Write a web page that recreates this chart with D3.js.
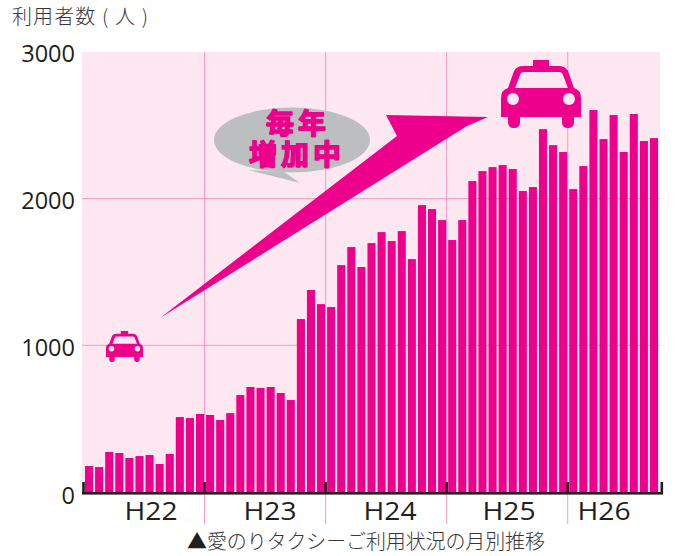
<!DOCTYPE html>
<html>
  <head>
    <meta http-equiv="content-type" content="text/html; charset=UTF-8">
    <title>愛のりタクシー</title>
    <script type='text/javascript' src='https://d3js.org/d3.v7.min.js'></script>
    <style type='text/css'>
      html, body { margin: 0; padding: 0; background-color: white; }
      svg { display: block; }
      text { fill: #231f20; }
    </style>
  </head>
  <body>
    <script type='text/javascript'>
      var years = ["H22", "H23", "H24", "H25", "H26"];
      var monthsPerYear = [12, 12, 12, 12, 9];
      var h22 = [177, 170, 273, 266, 232, 245, 252, 191, 259, 511, 504, 532];
      var h23 = [525, 491, 538, 661, 716, 709, 716, 675, 627, 1179, 1377, 1281];
      var h24 = [1261, 1547, 1670, 1534, 1697, 1772, 1711, 1779, 1588, 1956, 1929, 1854];
      var h25 = [1718, 1854, 2120, 2188, 2215, 2229, 2202, 2052, 2079, 2474, 2365, 2318];
      var h26 = [2065, 2222, 2604, 2406, 2570, 2318, 2577, 2393, 2413];
      var yTicks = [0, 1000, 2000, 3000];

      var values = h22.concat(h23, h24, h25, h26);
      var w = 675, h = 556;
      var pink = "#ec008c", bg = "#fde7f0", grid = "#f59ac3", ink = "#231f20";
      var jp = "'Noto Sans CJK JP', sans-serif";
      var latin = "'Open Sans', sans-serif";

      var svg = d3.select("body").append("svg").attr("width", w).attr("height", h);

      var x = d3.scaleBand().domain(d3.range(values.length))
        .range([85, 658]).paddingInner(0.2).paddingOuter(0);
      var y = d3.scaleLinear().domain([0, 3000]).range([492, 52]);

      // first month of each year, used for the dividers
      var starts = Array.from(d3.cumsum(monthsPerYear)).slice(0, -1);
      var dividers = starts.map(function(i) { return x(i) - 1.5; });

      svg.append("rect").attr("x", 82).attr("y", y(3000))
        .attr("width", 578).attr("height", y(0) - y(3000)).style("fill", bg);

      // grid
      svg.selectAll(".hgrid").data([1000, 2000]).enter().append("line")
        .attr("x1", 82).attr("x2", 660)
        .attr("y1", function(d) { return y(d); }).attr("y2", function(d) { return y(d); })
        .style("stroke", grid).style("stroke-width", 1);
      svg.selectAll(".vgrid").data(dividers).enter().append("line")
        .attr("x1", function(d) { return d; }).attr("x2", function(d) { return d; })
        .attr("y1", y(3000)).attr("y2", 524)
        .style("stroke", grid).style("stroke-width", 1);

      // bars
      svg.selectAll(".bar").data(values).enter().append("rect")
        .attr("x", function(d, i) { return x(i); })
        .attr("y", function(d) { return y(d); })
        .attr("width", x.bandwidth())
        .attr("height", function(d) { return y(0) - y(d); })
        .style("fill", pink);

      // baseline and year ticks
      svg.append("rect").attr("x", 82).attr("y", 492).attr("width", 581).attr("height", 2.6).style("fill", ink);
      svg.selectAll(".ytick").data([83.5].concat(dividers, [661.8])).enter().append("rect")
        .attr("x", function(d) { return d - 1.3; })
        .attr("y", 482).attr("width", 2.6).attr("height", 12)
        .style("fill", ink);

      // y axis labels
      var yAxis = svg.append("g").attr("transform", "translate(82,0)")
        .call(d3.axisLeft(y).tickValues(yTicks).tickSize(0).tickPadding(7).tickFormat(d3.format("d")));
      yAxis.select(".domain").remove();
      yAxis.selectAll("text").style("font-family", latin).style("font-size", "23.5px")
        .attr("dy", function(d) { return d === 0 ? "0.5em" : "0.42em"; });

      // year labels
      var yearX = [151, 270, 390, 509, 604];
      svg.selectAll(".year").data(years).enter().append("text")
        .attr("x", function(d, i) { return yearX[i]; })
        .attr("y", 520).attr("text-anchor", "middle")
        .style("font-family", latin).style("font-size", "26px")
        .attr("textLength", 53).attr("lengthAdjust", "spacingAndGlyphs")
        .text(function(d) { return d; });

      // titles
      svg.append("text").attr("x", 12).attr("y", 24)
        .style("font-family", jp).style("font-size", "20px").style("font-weight", 300)
        .style("fill", "#3a3637")
        .attr("textLength", 136)
        .text("利用者数 ( 人 )");
      var foot = svg.append("text").attr("x", 187).attr("y", 549)
        .style("font-family", jp).style("font-size", "20px").style("font-weight", 300)
        .style("fill", "#3a3637")
        .attr("textLength", 358);
      foot.append("tspan").style("fill", ink).text("▲");
      foot.append("tspan").text("愛のりタクシーご利用状況の月別推移");

      // big arrow
      svg.append("path")
        .attr("d", "M160,318 L397,136 L386,115 L488,117 L467,126 Z")
        .style("fill", pink);

      // speech bubble
      svg.append("ellipse").attr("cx", 292).attr("cy", 140).attr("rx", 78).attr("ry", 32.5)
        .style("fill", "#bcbec0");
      svg.append("path").attr("d", "M248,170 L300,183 L284,172 Z").style("fill", "#bcbec0");

      var say = svg.append("g").style("font-family", jp).style("font-weight", 700)
        .style("font-size", "28px").style("letter-spacing", "4px").attr("text-anchor", "middle");
      [["毎年", 298, 134], ["増加中", 297, 165]].forEach(function(t) {
        say.append("text").attr("x", t[1]).attr("y", t[2])
          .style("fill", pink).style("stroke", pink).style("stroke-width", 1.6)
          .style("stroke-linejoin", "round")
          .text(t[0]);
      });

      // taxi icon, drawn once in a 80x68 box
      function taxi(tx, ty, sx, sy) {
        var g = svg.append("g").attr("transform", "translate(" + tx + "," + ty + ") scale(" + sx + "," + sy + ")");
        g.append("path").style("fill", pink).attr("fill-rule", "evenodd")
          .attr("d", "M32,0 H48 V6 H58 Q64,6 67,11 L73,28 Q80,30 80,38 V57 H73 V62 Q73,68 67,68 Q61,68 61,62 V57 H19 V62 Q19,68 13,68 Q7,68 7,62 V57 H0 V38 Q0,30 7,28 L13,11 Q16,6 22,6 H32 Z " +
             "M23,12 Q20,12 19,15 L14,28 H67 L62,15 Q61,12 58,12 Z");
        g.append("circle").attr("cx", 12).attr("cy", 39).attr("r", 6).style("fill", bg);
        g.append("circle").attr("cx", 68).attr("cy", 39).attr("r", 6).style("fill", bg);
      }
      taxi(501, 60, 1, 1);
      taxi(106, 331, 0.4625, 0.456);
    </script>
  </body>
</html>
